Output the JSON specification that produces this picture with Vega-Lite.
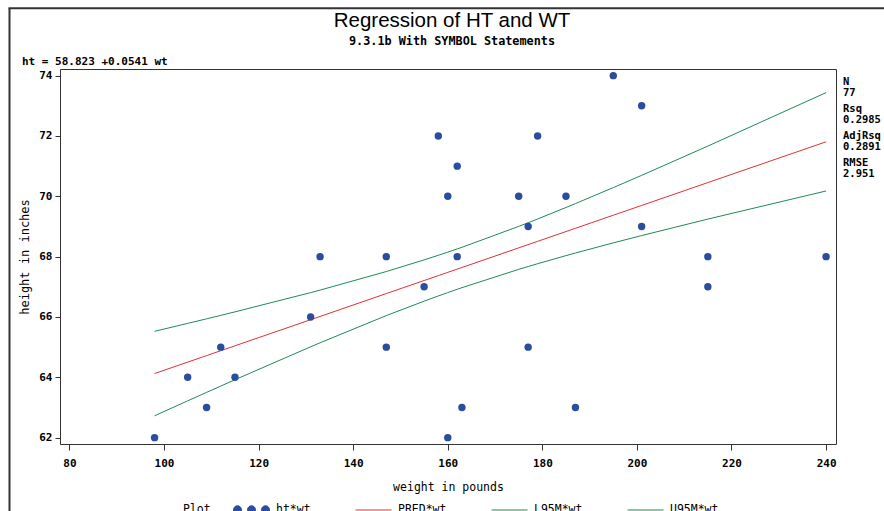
{
  "$schema": "https://vega.github.io/schema/vega-lite/v6.json",
  "width": 776,
  "height": 375,
  "autosize": {"type": "none"},
  "padding": {"left": 60, "top": 69, "right": 48, "bottom": 67},
  "background": "white",
  "config": {
    "view": {"stroke": "#333333", "strokeWidth": 1},
    "axis": {
      "labelFont": "DejaVu Sans Mono",
      "labelFontWeight": "bold",
      "labelFontSize": 11,
      "labelColor": "black",
      "titleFont": "DejaVu Sans Mono",
      "titleFontWeight": "normal",
      "titleFontSize": 11.5,
      "titleColor": "black",
      "tickColor": "#333333",
      "domain": false,
      "grid": false
    }
  },
  "title": {
    "text": "Regression of HT and WT",
    "subtitle": "9.3.1b With SYMBOL Statements",
    "font": "Liberation Sans",
    "fontSize": 20.5,
    "fontWeight": "normal",
    "color": "black",
    "subtitleFont": "DejaVu Sans Mono",
    "subtitleFontSize": 11.8,
    "subtitleFontWeight": "bold",
    "subtitleColor": "black",
    "subtitlePadding": 4,
    "anchor": "middle",
    "frame": "group",
    "dx": 4,
    "offset": -40
  },
  "datasets": {
    "points": [
      {"wt": 98, "ht": 62}, {"wt": 105, "ht": 64}, {"wt": 109, "ht": 63}, {"wt": 112, "ht": 65},
      {"wt": 115, "ht": 64}, {"wt": 131, "ht": 66}, {"wt": 133, "ht": 68}, {"wt": 147, "ht": 68},
      {"wt": 147, "ht": 65}, {"wt": 155, "ht": 67}, {"wt": 158, "ht": 72}, {"wt": 160, "ht": 70},
      {"wt": 160, "ht": 62}, {"wt": 162, "ht": 71}, {"wt": 162, "ht": 68}, {"wt": 163, "ht": 63},
      {"wt": 175, "ht": 70}, {"wt": 177, "ht": 69}, {"wt": 177, "ht": 65}, {"wt": 179, "ht": 72},
      {"wt": 185, "ht": 70}, {"wt": 187, "ht": 63}, {"wt": 195, "ht": 74}, {"wt": 201, "ht": 73},
      {"wt": 201, "ht": 69}, {"wt": 215, "ht": 68}, {"wt": 215, "ht": 67}, {"wt": 240, "ht": 68}
    ],
    "fit": [
      {"wt": 98, "PRED*wt": 64.125, "L95M*wt": 62.725, "U95M*wt": 65.525},
      {"wt": 105, "PRED*wt": 64.504, "L95M*wt": 63.220, "U95M*wt": 65.788},
      {"wt": 109, "PRED*wt": 64.720, "L95M*wt": 63.501, "U95M*wt": 65.939},
      {"wt": 112, "PRED*wt": 64.882, "L95M*wt": 63.710, "U95M*wt": 66.054},
      {"wt": 115, "PRED*wt": 65.045, "L95M*wt": 63.920, "U95M*wt": 66.170},
      {"wt": 131, "PRED*wt": 65.910, "L95M*wt": 65.012, "U95M*wt": 66.808},
      {"wt": 133, "PRED*wt": 66.018, "L95M*wt": 65.145, "U95M*wt": 66.891},
      {"wt": 147, "PRED*wt": 66.776, "L95M*wt": 66.046, "U95M*wt": 67.506},
      {"wt": 155, "PRED*wt": 67.209, "L95M*wt": 66.525, "U95M*wt": 67.893},
      {"wt": 158, "PRED*wt": 67.371, "L95M*wt": 66.697, "U95M*wt": 68.045},
      {"wt": 160, "PRED*wt": 67.479, "L95M*wt": 66.808, "U95M*wt": 68.150},
      {"wt": 162, "PRED*wt": 67.587, "L95M*wt": 66.918, "U95M*wt": 68.256},
      {"wt": 163, "PRED*wt": 67.641, "L95M*wt": 66.972, "U95M*wt": 68.310},
      {"wt": 175, "PRED*wt": 68.291, "L95M*wt": 67.579, "U95M*wt": 69.003},
      {"wt": 177, "PRED*wt": 68.399, "L95M*wt": 67.673, "U95M*wt": 69.125},
      {"wt": 179, "PRED*wt": 68.507, "L95M*wt": 67.766, "U95M*wt": 69.248},
      {"wt": 185, "PRED*wt": 68.832, "L95M*wt": 68.034, "U95M*wt": 69.630},
      {"wt": 187, "PRED*wt": 68.940, "L95M*wt": 68.121, "U95M*wt": 69.759},
      {"wt": 195, "PRED*wt": 69.373, "L95M*wt": 68.457, "U95M*wt": 70.289},
      {"wt": 201, "PRED*wt": 69.697, "L95M*wt": 68.699, "U95M*wt": 70.695},
      {"wt": 215, "PRED*wt": 70.455, "L95M*wt": 69.245, "U95M*wt": 71.665},
      {"wt": 240, "PRED*wt": 71.807, "L95M*wt": 70.177, "U95M*wt": 73.437}
    ]
  },
  "layer": [
    {
      "data": {"name": "fit"},
      "transform": [{"fold": ["PRED*wt", "L95M*wt", "U95M*wt"], "as": ["series", "value"]}],
      "mark": {"type": "line", "strokeWidth": 1},
      "encoding": {
        "x": {
          "field": "wt", "type": "quantitative",
          "scale": {"domain": [78, 242.1], "nice": false, "zero": false},
          "axis": {"values": [80, 100, 120, 140, 160, 180, 200, 220, 240], "title": "weight in pounds", "tickSize": 6, "labelPadding": 7, "titlePadding": 13}
        },
        "y": {
          "field": "value", "type": "quantitative",
          "scale": {"domain": [61.79, 74.22], "nice": false, "zero": false},
          "axis": {"values": [62, 64, 66, 68, 70, 72, 74], "title": "height in inches", "titleFontSize": 12, "tickSize": 5, "labelPadding": 3, "titlePadding": 7}
        },
        "detail": {"field": "series"},
        "order": {"field": "wt", "type": "quantitative"},
        "color": {
          "field": "series", "type": "nominal",
          "scale": {
            "domain": ["ht*wt", "PRED*wt", "L95M*wt", "U95M*wt"],
            "range": ["#2a4d9f", "#e0303a", "#1f8a57", "#1f8a57"]
          },
          "legend": {
            "orient": "none",
            "direction": "horizontal",
            "columns": 4,
            "legendX": 123,
            "legendY": 422,
            "title": "Plot",
            "titleOrient": "left",
            "titleAnchor": "middle",
            "titleBaseline": "middle",
            "titleFont": "DejaVu Sans Mono",
            "titleFontWeight": "normal",
            "titleFontSize": 11.5,
            "titleColor": "black",
            "titlePadding": 22,
            "labelFont": "DejaVu Sans Mono",
            "labelFontSize": 11.5,
            "labelColor": "black",
            "labelOffset": 6,
            "columnPadding": 42,
            "symbolSize": 1296,
            "symbolType": "stroke",
            "encode": {
              "title": {"update": {"dy": {"value": 7}}},
              "symbols": {
                "update": {
                  "shape": {"signal": "datum.value === 'ht*wt' ? 'M-1,0a0.222,0.222 0 1,0 0.444,0a0.222,0.222 0 1,0 -0.444,0ZM-0.222,0a0.222,0.222 0 1,0 0.444,0a0.222,0.222 0 1,0 -0.444,0ZM0.556,0a0.222,0.222 0 1,0 0.444,0a0.222,0.222 0 1,0 -0.444,0Z' : 'stroke'"},
                  "fill": {"signal": "datum.value === 'ht*wt' ? '#2a4d9f' : 'transparent'"},
                  "stroke": {"signal": "datum.value === 'ht*wt' ? 'transparent' : (datum.value === 'PRED*wt' ? '#e0303a' : '#1f8a57')"},
                  "strokeWidth": {"value": 1},
                  "size": {"value": 1296},
                  "opacity": {"value": 1}
                }
              }
            }
          }
        }
      }
    },
    {
      "data": {"name": "points"},
      "mark": {"type": "point", "filled": true, "size": 55, "opacity": 1},
      "encoding": {
        "x": {"field": "wt", "type": "quantitative"},
        "y": {"field": "ht", "type": "quantitative"},
        "color": {"datum": "ht*wt"}
      }
    },
    {
      "data": {"values": [{}]},
      "mark": {"type": "text", "font": "DejaVu Sans Mono", "fontWeight": "bold", "fontSize": 11, "align": "left", "baseline": "middle", "text": "ht = 58.823 +0.0541 wt", "color": "black"},
      "encoding": {"x": {"datum": 69.96}, "y": {"datum": 74.46}}
    },
    {
      "data": {"values": [{}]},
      "mark": {"type": "text", "font": "DejaVu Sans Mono", "fontWeight": "bold", "fontSize": 10.5, "align": "left", "baseline": "middle", "lineHeight": 11.5, "text": ["N", "77"], "color": "black"},
      "encoding": {"x": {"datum": 243.58}, "y": {"datum": 73.8}}
    },
    {
      "data": {"values": [{}]},
      "mark": {"type": "text", "font": "DejaVu Sans Mono", "fontWeight": "bold", "fontSize": 10.5, "align": "left", "baseline": "middle", "lineHeight": 11.5, "text": ["Rsq", "0.2985"], "color": "black"},
      "encoding": {"x": {"datum": 243.58}, "y": {"datum": 72.905}}
    },
    {
      "data": {"values": [{}]},
      "mark": {"type": "text", "font": "DejaVu Sans Mono", "fontWeight": "bold", "fontSize": 10.5, "align": "left", "baseline": "middle", "lineHeight": 11.5, "text": ["AdjRsq", "0.2891"], "color": "black"},
      "encoding": {"x": {"datum": 243.58}, "y": {"datum": 72.01}}
    },
    {
      "data": {"values": [{}]},
      "mark": {"type": "text", "font": "DejaVu Sans Mono", "fontWeight": "bold", "fontSize": 10.5, "align": "left", "baseline": "middle", "lineHeight": 11.5, "text": ["RMSE", "2.951"], "color": "black"},
      "encoding": {"x": {"datum": 243.58}, "y": {"datum": 71.115}}
    },
    {
      "data": {"values": [{}]},
      "mark": {"type": "rule", "color": "#333333", "strokeWidth": 2},
      "encoding": {"x": {"datum": 67.32}, "y": {"datum": 76.23}, "y2": {"datum": 59.0}}
    },
    {
      "data": {"values": [{}]},
      "mark": {"type": "rule", "color": "#333333", "strokeWidth": 2},
      "encoding": {"y": {"datum": 76.23}, "x": {"datum": 67.1}, "x2": {"datum": 256}}
    }
  ]
}
